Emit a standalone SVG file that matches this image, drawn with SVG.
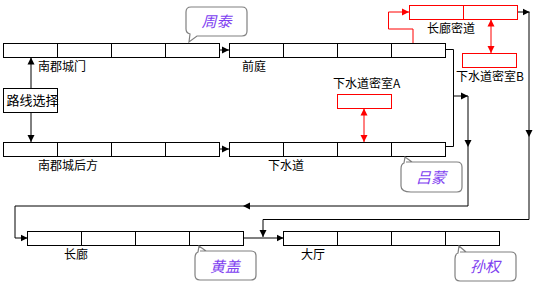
<svg xmlns="http://www.w3.org/2000/svg" width="535" height="298" viewBox="0 0 535 298">
<defs>
<marker id="ab" markerWidth="8" markerHeight="8" refX="7" refY="4" orient="auto" markerUnits="userSpaceOnUse"><path d="M0,0.5 L7,4 L0,7.5 Z" fill="#000"/></marker>
<marker id="ar" markerWidth="8" markerHeight="8" refX="7" refY="4" orient="auto" markerUnits="userSpaceOnUse"><path d="M0,0.5 L7,4 L0,7.5 Z" fill="#f00"/></marker>
<marker id="ars" markerWidth="8" markerHeight="8" refX="7" refY="4" orient="auto-start-reverse" markerUnits="userSpaceOnUse"><path d="M0,0.5 L7,4 L0,7.5 Z" fill="#f00"/></marker>
</defs>
<style>
.cell{fill:#fff;stroke:#000;stroke-width:1}
.rcell{fill:#fff;stroke:#f00;stroke-width:1}
.t{font-family:"Noto Sans CJK SC","Noto Sans",sans-serif;font-size:12px;fill:#000}
.c{fill:#fff;stroke:#808080;stroke-width:1.2}
.ct{font-family:"Noto Sans CJK SC",sans-serif;font-size:15px;fill:#8040f0;font-style:italic}
.bl{fill:none;stroke:#000;stroke-width:1}
.rl{fill:none;stroke:#f00;stroke-width:1}
</style>
<rect width="535" height="298" fill="#fff"/>

<g id="connectors">
<path class="bl" d="M220,50 H229" marker-end="url(#ab)"/>
<path class="bl" d="M220,149 H229" marker-end="url(#ab)"/>
<path class="bl" d="M31,88 V57.5" marker-end="url(#ab)"/>
<path class="bl" d="M31,112 V142" marker-end="url(#ab)"/>
<path class="bl" d="M445,49.5 H453.5 V146.5 H445"/>
<path class="bl" d="M453.5,96 H468" marker-end="url(#ab)"/>
<path class="bl" d="M468,96 V147" marker-end="url(#ab)"/>
<path class="bl" d="M468,147 V206 H243" marker-end="url(#ab)"/>
<path class="bl" d="M243,206 H15 V238 H27.5" marker-end="url(#ab)"/>
<path class="bl" d="M517,12 H529.5" marker-end="url(#ab)"/>
<path class="bl" d="M529,12 V137" marker-end="url(#ab)"/>
<path class="bl" d="M529,137 V219.5 H263 V237" marker-end="url(#ab)"/>
<path class="bl" d="M243,238 H283.5" marker-end="url(#ab)"/>
<path class="rl" d="M413,43 V29 H388.5 V12 H409" marker-end="url(#ar)"/>
<path class="rl" d="M491,19.5 V53" marker-start="url(#ars)" marker-end="url(#ars)"/>
<path class="rl" d="M364,108.5 V142" marker-start="url(#ars)" marker-end="url(#ars)"/>
</g>

<g id="nanjun-gate">
<rect class="cell" x="3.5" y="43.5" width="54" height="14"/>
<rect class="cell" x="57.5" y="43.5" width="54" height="14"/>
<rect class="cell" x="111.5" y="43.5" width="54" height="14"/>
<rect class="cell" x="165.5" y="43.5" width="54" height="14"/>
<text class="t" x="38" y="71">南郡城门</text>
</g>

<g id="qianting">
<rect class="cell" x="229.5" y="43.5" width="54" height="14"/>
<rect class="cell" x="283.5" y="43.5" width="54" height="14"/>
<rect class="cell" x="337.5" y="43.5" width="54" height="14"/>
<rect class="cell" x="391.5" y="43.5" width="54" height="14"/>
<text class="t" x="242" y="71">前庭</text>
</g>

<g id="route-select">
<rect class="cell" x="3.5" y="88.5" width="54" height="24"/>
<text class="t" x="6.5" y="105" style="font-size:13px">路线选择</text>
</g>

<g id="nanjun-back">
<rect class="cell" x="3.5" y="142.5" width="54" height="14"/>
<rect class="cell" x="57.5" y="142.5" width="54" height="14"/>
<rect class="cell" x="111.5" y="142.5" width="54" height="14"/>
<rect class="cell" x="165.5" y="142.5" width="54" height="14"/>
<text class="t" x="38" y="170">南郡城后方</text>
</g>

<g id="sewer">
<rect class="cell" x="229.5" y="142.5" width="54" height="14"/>
<rect class="cell" x="283.5" y="142.5" width="54" height="14"/>
<rect class="cell" x="337.5" y="142.5" width="54" height="14"/>
<rect class="cell" x="391.5" y="142.5" width="54" height="14"/>
<text class="t" x="268" y="170">下水道</text>
</g>

<g id="sewer-room-a">
<rect class="rcell" x="337.5" y="94.5" width="54" height="14"/>
<text class="t" x="333" y="88">下水道密室A</text>
</g>

<g id="corridor-secret">
<rect class="rcell" x="409.5" y="5.5" width="54" height="14"/>
<rect class="rcell" x="463.5" y="5.5" width="54" height="14"/>
<text class="t" x="427" y="33">长廊密道</text>
</g>

<g id="sewer-room-b">
<rect class="rcell" x="462.5" y="53.5" width="54" height="14"/>
<text class="t" x="456" y="81">下水道密室B</text>
</g>

<g id="changlang">
<rect class="cell" x="27.5" y="231.5" width="54" height="14"/>
<rect class="cell" x="81.5" y="231.5" width="54" height="14"/>
<rect class="cell" x="135.5" y="231.5" width="54" height="14"/>
<rect class="cell" x="189.5" y="231.5" width="54" height="14"/>
<text class="t" x="64" y="259">长廊</text>
</g>

<g id="dating">
<rect class="cell" x="283.5" y="231.5" width="54" height="14"/>
<rect class="cell" x="337.5" y="231.5" width="54" height="14"/>
<rect class="cell" x="391.5" y="231.5" width="54" height="14"/>
<rect class="cell" x="445.5" y="231.5" width="54" height="14"/>
<text class="t" x="301" y="259">大厅</text>
</g>

<g id="zhoutai">
<path class="c" d="M191,7 H242 Q247,7 247,12 V31 Q247,36 242,36 H197 L189,42 L190,34 Q186,33 186,29 V12 Q186,7 191,7 Z"/>
<text class="ct" x="216.5" y="27" text-anchor="middle">周泰</text>
</g>

<g id="lvmeng">
<path class="c" d="M406,162 H457 Q462,162 462,167 V187 Q462,192 457,192 H411 Q401,192 401,186 V169 Q401,164 404,163 L405,157 L412,162 Z"/>
<text class="ct" x="431" y="183" text-anchor="middle">吕蒙</text>
</g>

<g id="huanggai">
<path class="c" d="M200,251 H251 Q256,251 256,256 V275 Q256,280 251,280 H200 Q195,280 195,275 V258 Q195,253 198,252 L199,246 L206,251 Z"/>
<text class="ct" x="225" y="272" text-anchor="middle">黄盖</text>
</g>

<g id="sunquan">
<path class="c" d="M460,252 H511 Q516,252 516,257 V276 Q516,281 511,281 H460 Q455,281 455,276 V259 Q455,254 458,253 L459,246 L466,252 Z"/>
<text class="ct" x="485" y="272" text-anchor="middle">孙权</text>
</g>
</svg>
